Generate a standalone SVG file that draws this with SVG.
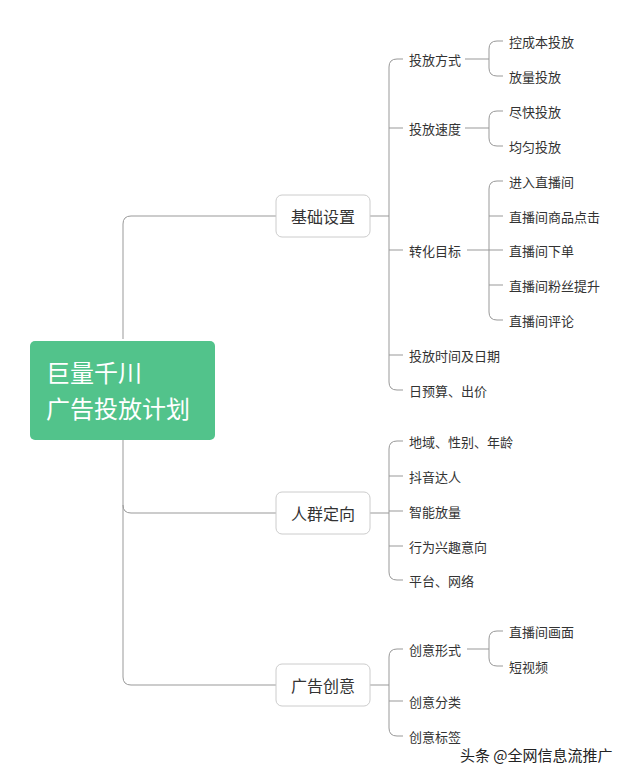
<svg xmlns="http://www.w3.org/2000/svg" width="640" height="780" viewBox="0 0 640 780">
<style>
text{font-family:"Noto Sans CJK SC","Noto Sans",sans-serif;fill:#333}
.l2{font-size:13px;dominant-baseline:central}
.l1{font-size:16px;dominant-baseline:central;text-anchor:middle}
.c{fill:none;stroke:#999;stroke-width:1}
.b{fill:#fff;stroke:#ccc;stroke-width:1}
</style>
<rect width="640" height="780" fill="#fff"/>
<g id="connectors">
<path class="c" d="M123 339 V224 Q123 216 131 216 H276 M123 440 V677 Q123 685 131 685 H276 M123 505 Q123 513 131 513 H276"/>
<path class="c" d="M370 216 H389 M397 59 Q389 59 389 67 V382 Q389 390 397 390 H403 M389 59 M397 59 H403 M389 128 H403 M389 250 H403 M389 355 H403"/>
<path class="c" d="M370 513 H389 M397 441 Q389 441 389 449 V572 Q389 580 397 580 H403 M397 441 H403 M389 476 H403 M389 511 H403 M389 546 H403"/>
<path class="c" d="M370 685 H389 M397 649 Q389 649 389 657 V728 Q389 736 397 736 H403 M397 649 H403 M389 701 H403"/>
<path class="c" d="M465 59 H489 M497 41 Q489 41 489 49 V68 Q489 76 497 76 H503 M497 41 H503"/>
<path class="c" d="M465 128 H489 M497 111 Q489 111 489 119 V138 Q489 146 497 146 H503 M497 111 H503"/>
<path class="c" d="M467 250 H489 M497 181 Q489 181 489 189 V312 Q489 320 497 320 H503 M497 181 H503 M489 216 H503 M489 250 H503 M489 285 H503"/>
<path class="c" d="M467 649 H489 M497 631 Q489 631 489 639 V658 Q489 666 497 666 H503 M497 631 H503"/>
</g>
<g id="root"><rect x="30" y="341" width="185" height="99" rx="5" fill="#52c38b"/>
<text x="46" y="382" font-size="24" style="fill:#fff">巨量千川</text>
<text x="46" y="418" font-size="24" style="fill:#fff">广告投放计划</text></g>
<g id="n1"><rect class="b" x="276" y="195" width="94" height="42" rx="6"/><text class="l1" x="323" y="216">基础设置</text></g>
<g id="n2"><rect class="b" x="276" y="492" width="94" height="42" rx="6"/><text class="l1" x="323" y="513">人群定向</text></g>
<g id="n3"><rect class="b" x="276" y="664" width="94" height="42" rx="6"/><text class="l1" x="323" y="685">广告创意</text></g>
<g id="l2">
<text class="l2" x="409" y="59">投放方式</text>
<text class="l2" x="409" y="128">投放速度</text>
<text class="l2" x="409" y="250">转化目标</text>
<text class="l2" x="409" y="355">投放时间及日期</text>
<text class="l2" x="409" y="390">日预算、出价</text>
<text class="l2" x="409" y="441">地域、性别、年龄</text>
<text class="l2" x="409" y="476">抖音达人</text>
<text class="l2" x="409" y="511">智能放量</text>
<text class="l2" x="409" y="546">行为兴趣意向</text>
<text class="l2" x="409" y="580">平台、网络</text>
<text class="l2" x="409" y="649">创意形式</text>
<text class="l2" x="409" y="701">创意分类</text>
<text class="l2" x="409" y="736">创意标签</text>
</g>
<g id="l3">
<text class="l2" x="509" y="41">控成本投放</text>
<text class="l2" x="509" y="76">放量投放</text>
<text class="l2" x="509" y="111">尽快投放</text>
<text class="l2" x="509" y="146">均匀投放</text>
<text class="l2" x="509" y="181">进入直播间</text>
<text class="l2" x="509" y="216">直播间商品点击</text>
<text class="l2" x="509" y="250">直播间下单</text>
<text class="l2" x="509" y="285">直播间粉丝提升</text>
<text class="l2" x="509" y="320">直播间评论</text>
<text class="l2" x="509" y="631">直播间画面</text>
<text class="l2" x="509" y="666">短视频</text>
</g>
<text x="460" y="761" font-size="15" style="fill:#222">头条 @全网信息流推广</text>
</svg>
